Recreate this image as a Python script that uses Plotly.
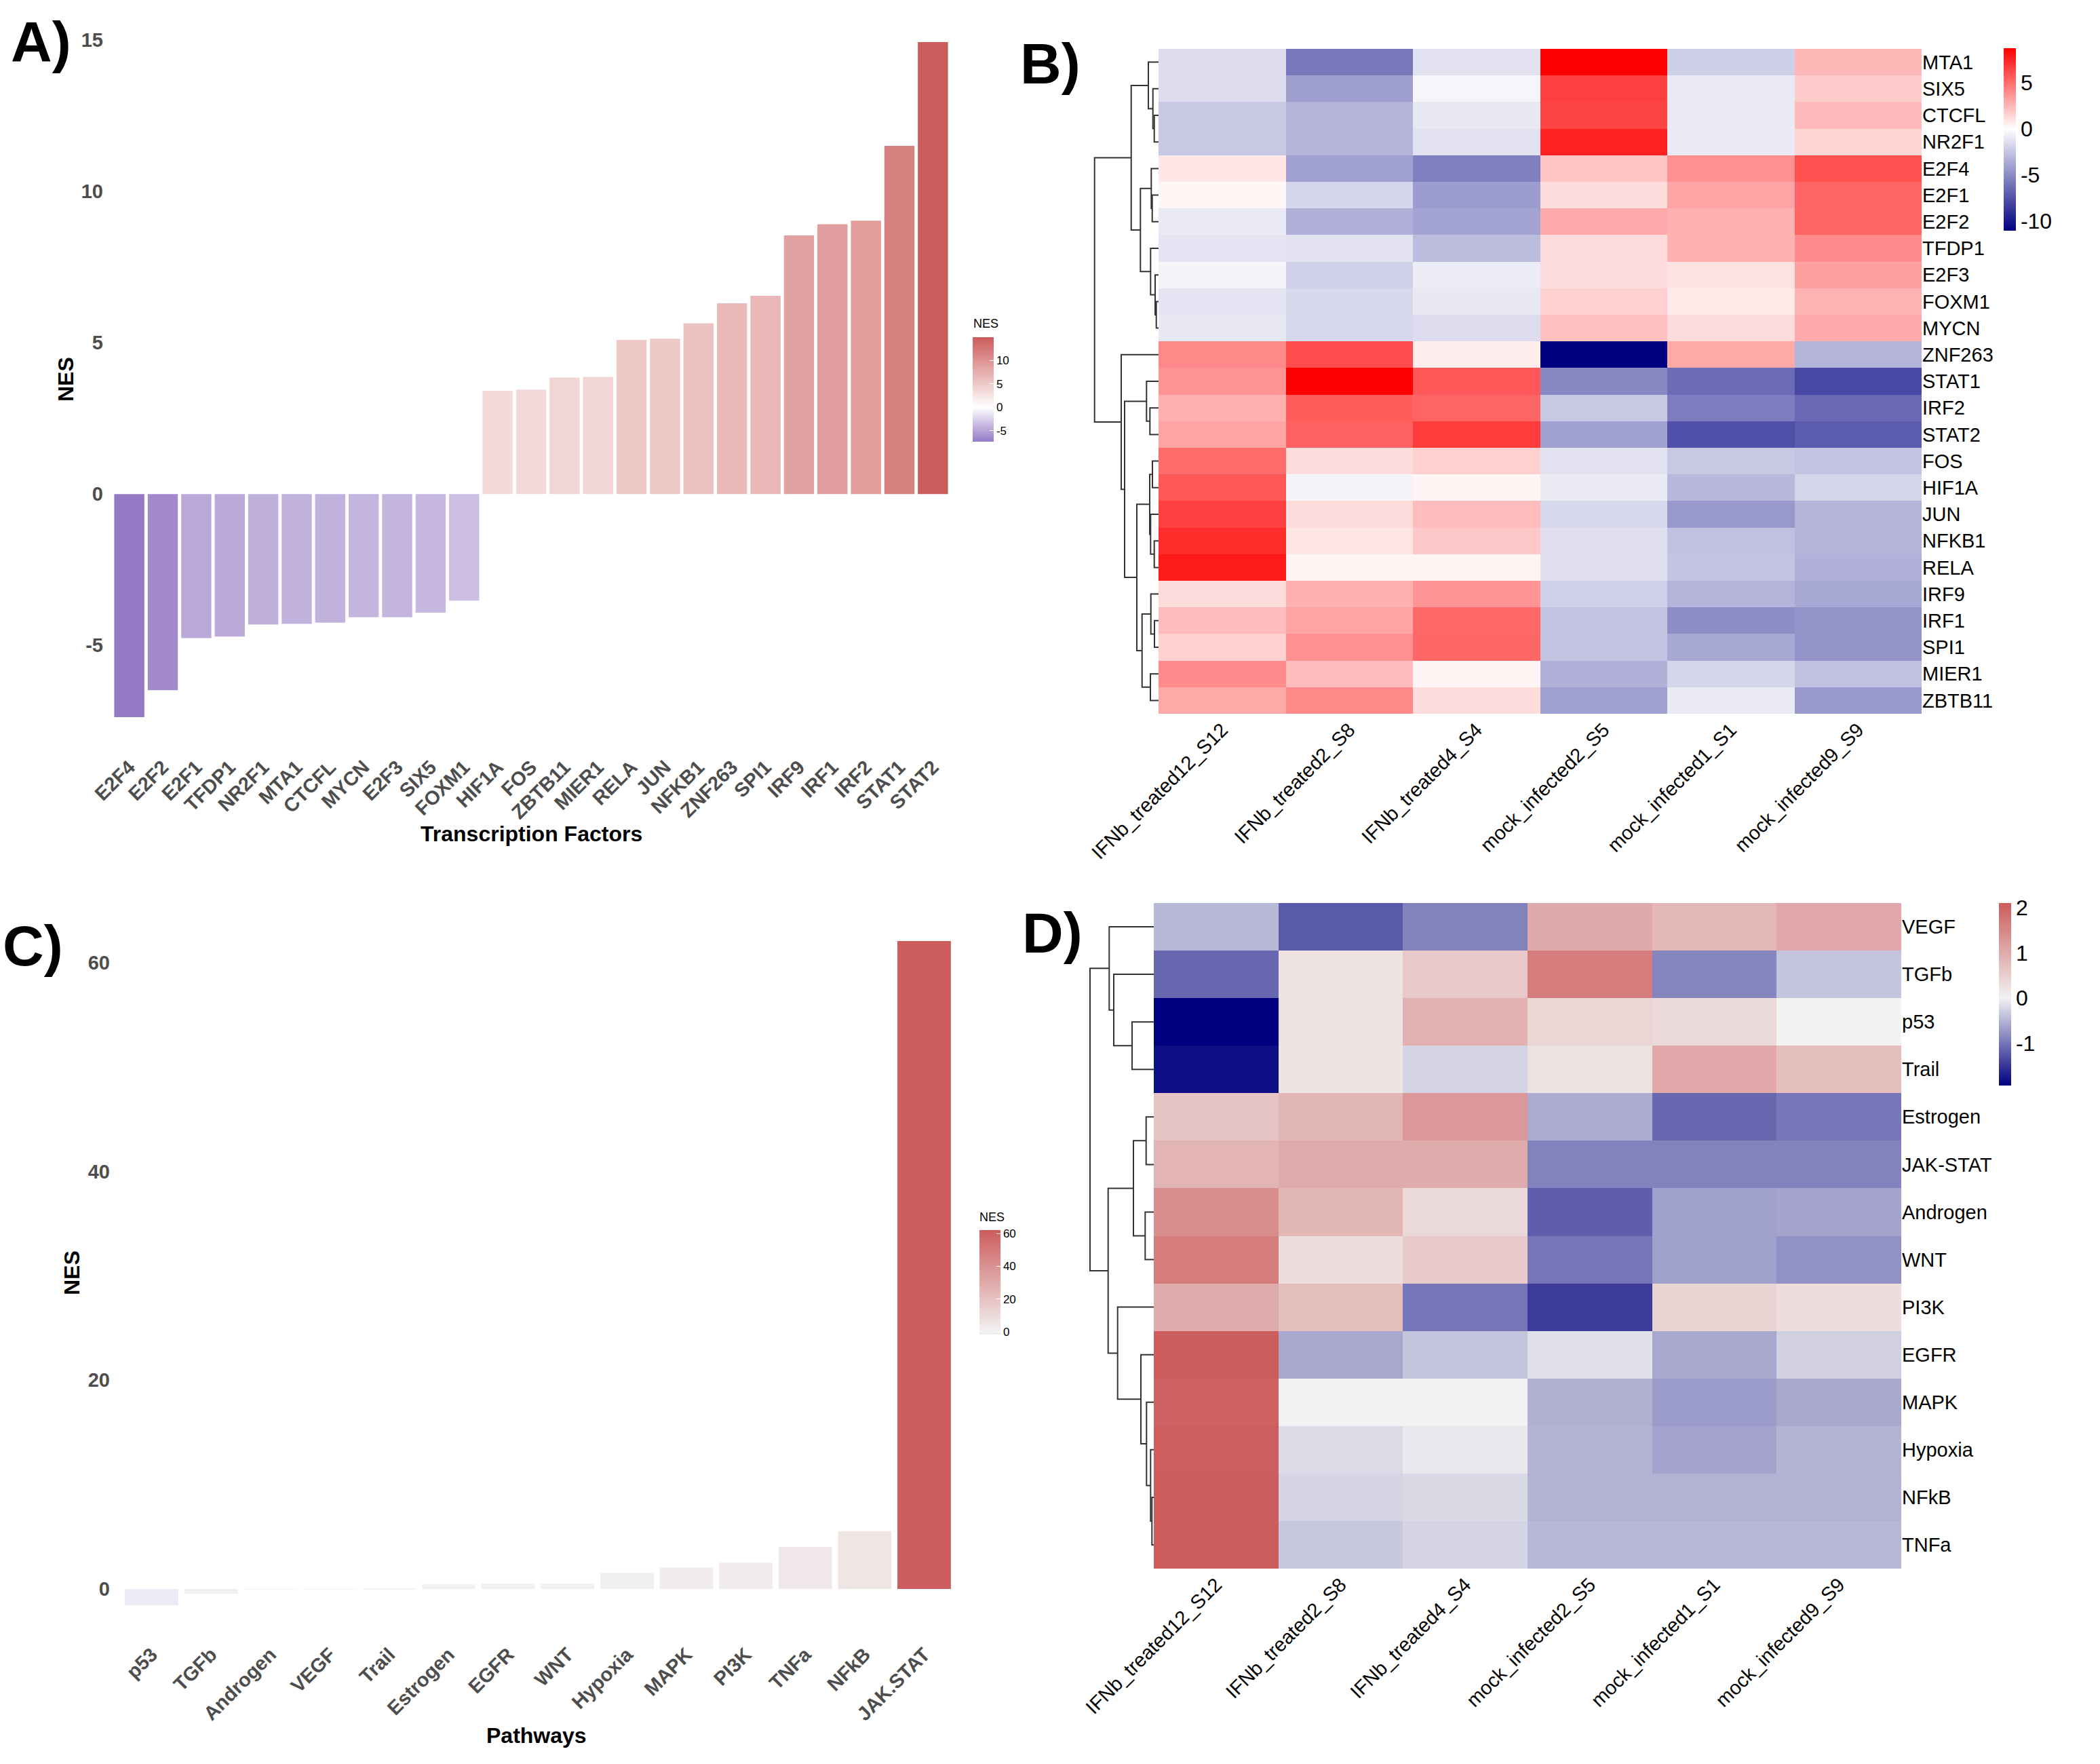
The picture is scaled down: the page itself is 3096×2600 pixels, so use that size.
import plotly.graph_objects as go

W, H = 3096, 2600


def fx(p):
    return p / W


def fy(p):
    return 1 - p / H


# ---------------- Panel A: transcription factors ----------------
tf_names = ["E2F4", "E2F2", "E2F1", "TFDP1", "NR2F1", "MTA1", "CTCFL", "MYCN", "E2F3", "SIX5",
            "FOXM1", "HIF1A", "FOS", "ZBTB11", "MIER1", "RELA", "JUN", "NFKB1", "ZNF263", "SPI1",
            "IRF9", "IRF1", "IRF2", "STAT1", "STAT2"]
tf_nes = [-7.37, -6.48, -4.76, -4.71, -4.31, -4.29, -4.25, -4.07, -4.07, -3.92,
          -3.52, 3.41, 3.45, 3.85, 3.87, 5.09, 5.13, 5.64, 6.30, 6.55,
          8.54, 8.91, 9.03, 11.50, 14.93]

# ---------------- Panel C: pathways ----------------
pw_names = ["p53", "TGFb", "Androgen", "VEGF", "Trail", "Estrogen", "EGFR", "WNT", "Hypoxia",
            "MAPK", "PI3K", "TNFa", "NFkB", "JAK.STAT"]
pw_nes = [-1.56, -0.45, -0.06, -0.04, 0.06, 0.45, 0.52, 0.52, 1.54, 2.05, 2.53, 4.04, 5.55, 62.07]

# ---------------- Heatmaps ----------------
samples = ["IFNb_treated12_S12", "IFNb_treated2_S8", "IFNb_treated4_S4",
           "mock_infected2_S5", "mock_infected1_S1", "mock_infected9_S9"]

tf_rows = ["MTA1", "SIX5", "CTCFL", "NR2F1", "E2F4", "E2F1", "E2F2", "TFDP1", "E2F3", "FOXM1",
           "MYCN", "ZNF263", "STAT1", "IRF2", "STAT2", "FOS", "HIF1A", "JUN", "NFKB1", "RELA",
           "IRF9", "IRF1", "SPI1", "MIER1", "ZBTB11"]
tf_matrix = [
    [-1.51, -5.84, -1.30, 8.75, -2.12, 2.44],
    [-1.51, -4.20, -0.43, 6.55, -0.91, 1.75],
    [-2.38, -3.24, -1.00, 6.42, -0.91, 2.33],
    [-2.38, -3.24, -1.30, 7.65, -0.91, 1.48],
    [0.86, -4.11, -5.49, 2.02, 3.81, 6.00],
    [0.31, -1.86, -4.28, 1.20, 3.12, 5.32],
    [-0.91, -3.42, -3.94, 2.92, 2.71, 5.32],
    [-1.17, -1.30, -2.90, 1.20, 2.71, 3.95],
    [-0.48, -2.03, -0.82, 1.20, 1.00, 3.26],
    [-1.17, -1.69, -1.00, 1.61, 0.72, 2.57],
    [-1.00, -1.69, -1.51, 2.16, 1.20, 2.92],
    [4.08, 6.14, 0.65, -11.03, 2.98, -3.24],
    [3.67, 8.75, 5.73, -5.15, -6.36, -7.92],
    [2.71, 5.59, 5.32, -2.38, -5.67, -6.53],
    [3.12, 5.46, 6.69, -4.11, -7.57, -7.05],
    [5.04, 1.20, 1.61, -1.30, -2.38, -2.55],
    [5.80, -0.48, 0.38, -0.91, -3.07, -1.86],
    [6.55, 1.20, 2.30, -1.69, -4.46, -3.24],
    [7.24, 0.86, 1.89, -1.40, -2.72, -3.24],
    [7.86, 0.38, 0.38, -1.40, -2.55, -3.42],
    [1.20, 2.71, 3.67, -2.03, -3.24, -3.76],
    [2.30, 3.12, 5.18, -2.55, -4.97, -4.63],
    [1.61, 3.81, 5.25, -2.55, -3.76, -4.63],
    [3.95, 2.30, 0.38, -3.42, -1.86, -2.72],
    [2.98, 4.08, 1.20, -4.11, -0.91, -4.46],
]

pw_rows = ["VEGF", "TGFb", "p53", "Trail", "Estrogen", "JAK-STAT", "Androgen", "WNT", "PI3K",
           "EGFR", "MAPK", "Hypoxia", "NFkB", "TNFa"]
pw_matrix = [
    [-0.46, -1.21, -0.89, 1.01, 0.81, 1.04],
    [-1.10, 0.22, 0.59, 1.65, -0.86, -0.37],
    [-1.93, 0.21, 0.90, 0.39, 0.37, 0.00],
    [-1.82, 0.19, -0.24, 0.24, 1.04, 0.73],
    [0.64, 0.84, 1.26, -0.56, -1.10, -0.99],
    [0.87, 1.00, 1.00, -0.89, -0.89, -0.89],
    [1.40, 0.84, 0.37, -1.18, -0.65, -0.62],
    [1.65, 0.30, 0.56, -1.00, -0.65, -0.77],
    [1.00, 0.73, -1.00, -1.45, 0.42, 0.30],
    [2.10, -0.59, -0.37, -0.14, -0.59, -0.27],
    [2.02, 0.00, 0.00, -0.53, -0.69, -0.58],
    [2.07, -0.18, -0.08, -0.50, -0.63, -0.50],
    [2.10, -0.24, -0.19, -0.51, -0.51, -0.51],
    [2.10, -0.34, -0.24, -0.47, -0.47, -0.47],
]

# Row dendrograms: [merge height, left, right]
tf_tree = [94.3,
           [40.3,
            [15.0, "MTA1", [8.3, "SIX5", [6.3, "CTCFL", "NR2F1"]]],
            [26.7,
             [10.7, "E2F4", [9.3, "E2F1", "E2F2"]],
             [11.7, "TFDP1", [5.0, "E2F3", [3.3, "FOXM1", "MYCN"]]]]],
           [55.0, "ZNF263",
            [50.0,
             [17.7, "STAT1", [12.7, "IRF2", "STAT2"]],
             [32.0,
              [13.0, [9.0, "FOS", "HIF1A"], [11.7, "JUN", [6.3, "NFKB1", "RELA"]]],
              [24.3, [11.3, "IRF9", [6.0, "IRF1", "SPI1"]], [12.0, "MIER1", "ZBTB11"]]]]]]

pw_tree = [94.0,
           [65.7, "VEGF", [59.0, "TGFb", [32.0, "p53", "Trail"]]],
           [67.3,
            [30.0, [11.3, "Estrogen", "JAK-STAT"], [12.7, "Androgen", "WNT"]],
            [53.3, "PI3K",
             [19.0, "EGFR", [10.7, "MAPK", [4.7, "Hypoxia", [2.7, "NFkB", "TNFa"]]]]]]]


def dendro_lines(tree, order):
    xs, ys = [], []

    def rec(n):
        if isinstance(n, str):
            return order.index(n), 0.0
        h, a, b = n
        ya, ha = rec(a)
        yb, hb = rec(b)
        xs.extend([ha, h, h, hb, None])
        ys.extend([ya, ya, yb, yb, None])
        return (ya + yb) / 2, h

    rec(tree)
    return xs, ys


def labels(vals):
    return [str(v) for v in vals]


FONT = "Liberation Sans, Arial, sans-serif"
GRAY = "#4D4D4D"

fig = go.Figure()

# ---- Panel A bars ----
a_min, a_max = min(tf_nes), max(tf_nes)
csA = [[0, "#9479C4"], [(0 - a_min) / (a_max - a_min), "#FFFFFF"], [1, "#CD5C5C"]]
cbA_ticks = [-5, 0, 5, 10]
fig.add_trace(go.Bar(
    x=tf_names, y=tf_nes, xaxis="x", yaxis="y",
    marker=dict(color=tf_nes, colorscale=csA, cmin=a_min, cmax=a_max, line=dict(width=0),
                showscale=True,
                colorbar=dict(x=fx(1434), xanchor="left", xpad=0, y=fy(497), yanchor="top", ypad=0,
                              len=154, lenmode="pixels", thickness=31, outlinewidth=0,
                              tickvals=cbA_ticks, ticktext=labels(cbA_ticks),
                              ticks="inside", ticklen=6, tickcolor="white",
                              tickfont=dict(family=FONT, size=17, color="#000000"))),
))

# ---- Panel C bars ----
c_min, c_max = min(pw_nes), max(pw_nes)
csC = [[0, "#ECEAF4"], [(0 - c_min) / (c_max - c_min), "#F2F2F2"], [1, "#CD5C5C"]]
cbC_ticks = [0, 20, 40, 60]
fig.add_trace(go.Bar(
    x=pw_names, y=pw_nes, xaxis="x4", yaxis="y4",
    marker=dict(color=pw_nes, colorscale=csC, cmin=c_min, cmax=c_max, line=dict(width=0),
                showscale=True,
                colorbar=dict(x=fx(1444), xanchor="left", xpad=0, y=fy(1813), yanchor="top", ypad=0,
                              len=154, lenmode="pixels", thickness=31, outlinewidth=0,
                              tickvals=cbC_ticks, ticktext=labels(cbC_ticks),
                              ticks="inside", ticklen=6, tickcolor="white",
                              tickfont=dict(family=FONT, size=17, color="#000000"))),
))

# ---- Panel B heatmap ----
b_min, b_max = -11.03, 8.75
csB = [[0, "#000080"], [(0 - b_min) / (b_max - b_min), "#FFFFFF"], [1, "#FF0000"]]
cbB_ticks = [5, 0, -5, -10]
fig.add_trace(go.Heatmap(
    z=tf_matrix, x=list(range(len(samples))), y=list(range(len(tf_rows))),
    xaxis="x2", yaxis="y2", colorscale=csB, zmin=b_min, zmax=b_max,
    colorbar=dict(x=fx(2954), xanchor="left", xpad=0, y=fy(71), yanchor="top", ypad=0,
                  len=269, lenmode="pixels", thickness=18, outlinewidth=0,
                  tickvals=cbB_ticks, ticktext=labels(cbB_ticks), ticks="",
                  tickfont=dict(family=FONT, size=32, color="#000000")),
))
bx, by = dendro_lines(tf_tree, tf_rows)
fig.add_trace(go.Scatter(x=bx, y=by, xaxis="x3", yaxis="y3", mode="lines",
                         line=dict(color="#333333", width=2), cliponaxis=False, hoverinfo="skip"))

# ---- Panel D heatmap ----
d_min, d_max = -1.93, 2.10
csD = [[0, "#000080"], [(0 - d_min) / (d_max - d_min), "#F2F2F2"], [1, "#CD5C5C"]]
cbD_ticks = [2, 1, 0, -1]
fig.add_trace(go.Heatmap(
    z=pw_matrix, x=list(range(len(samples))), y=list(range(len(pw_rows))),
    xaxis="x5", yaxis="y5", colorscale=csD, zmin=d_min, zmax=d_max,
    colorbar=dict(x=fx(2947), xanchor="left", xpad=0, y=fy(1331), yanchor="top", ypad=0,
                  len=269, lenmode="pixels", thickness=18, outlinewidth=0,
                  tickvals=cbD_ticks, ticktext=labels(cbD_ticks), ticks="",
                  tickfont=dict(family=FONT, size=32, color="#000000")),
))
dx, dy = dendro_lines(pw_tree, pw_rows)
fig.add_trace(go.Scatter(x=dx, y=dy, xaxis="x6", yaxis="y6", mode="lines",
                         line=dict(color="#333333", width=2), cliponaxis=False, hoverinfo="skip"))

bar_tick = dict(family=FONT, size=29, color=GRAY, weight="bold")
hm_tick = dict(family=FONT, size=29, color="#000000")
hidden = dict(visible=False, showgrid=False, zeroline=False, automargin=False)
common = dict(showgrid=False, zeroline=False, showline=False, ticks="", automargin=False)

a_yticks = [-5, 0, 5, 10, 15]
c_yticks = [0, 20, 40, 60]

fig.update_layout(
    width=W, height=H, margin=dict(l=0, r=0, t=0, b=0, autoexpand=False),
    paper_bgcolor="white", plot_bgcolor="white", showlegend=False, bargap=0.1,
    # Panel A
    xaxis=dict(domain=[fx(161), fx(1405)], range=[-0.6, len(tf_names) - 0.4], anchor="y",
               tickangle=-45, tickfont=bar_tick, **common),
    yaxis=dict(domain=[fy(1107), fy(12)], range=[-8.49, 16.05], anchor="x",
               tickvals=a_yticks, ticktext=labels(a_yticks), tickfont=bar_tick,
               ticklabelstandoff=8, **common),
    # Panel B heatmap
    xaxis2=dict(domain=[fx(1708), fx(2833)], range=[-0.5, 5.5], anchor="y2",
                tickvals=list(range(len(samples))), ticktext=samples, tickangle=-45,
                tickfont=hm_tick, **common),
    yaxis2=dict(domain=[fy(1052), fy(72)], range=[len(tf_rows) - 0.5, -0.5], anchor="x2",
                side="right", tickvals=list(range(len(tf_rows))), ticktext=tf_rows,
                tickfont=hm_tick, **common),
    xaxis3=dict(domain=[fx(1600), fx(1708)], range=[108, 0], anchor="y3", **hidden),
    yaxis3=dict(domain=[fy(1052), fy(72)], range=[len(tf_rows) - 0.5, -0.5], anchor="x3", **hidden),
    # Panel C
    xaxis4=dict(domain=[fx(171), fx(1415)], range=[-0.6, len(pw_names) - 0.4], anchor="y4",
                tickangle=-45, tickfont=bar_tick, **common),
    yaxis4=dict(domain=[fy(2415), fy(1338)], range=[-4.74, 65.25], anchor="x4",
                tickvals=c_yticks, ticktext=labels(c_yticks), tickfont=bar_tick,
                ticklabelstandoff=8, **common),
    # Panel D heatmap
    xaxis5=dict(domain=[fx(1701), fx(2803)], range=[-0.5, 5.5], anchor="y5",
                tickvals=list(range(len(samples))), ticktext=samples, tickangle=-45,
                tickfont=hm_tick, **common),
    yaxis5=dict(domain=[fy(2312), fy(1331)], range=[len(pw_rows) - 0.5, -0.5], anchor="x5",
                side="right", tickvals=list(range(len(pw_rows))), ticktext=pw_rows,
                tickfont=hm_tick, **common),
    xaxis6=dict(domain=[fx(1590), fx(1701)], range=[111, 0], anchor="y6", **hidden),
    yaxis6=dict(domain=[fy(2312), fy(1331)], range=[len(pw_rows) - 0.5, -0.5], anchor="x6", **hidden),
)

title_font = dict(family=FONT, size=32, color="#000000", weight="bold")
panel_font = dict(family=FONT, size=84, color="#000000", weight="bold")
cb_font = dict(family=FONT, size=18, color="#000000")


def ann(text, x, y, font, angle=0, xanchor="center"):
    fig.add_annotation(text=text, x=fx(x), y=fy(y), xref="paper", yref="paper",
                       showarrow=False, font=font, textangle=angle,
                       xanchor=xanchor, yanchor="middle")


ann("NES", 97, 559, title_font, angle=-90)
ann("Transcription Factors", 783, 1229, title_font)
ann("NES", 106, 1876, title_font, angle=-90)
ann("Pathways", 791, 2558, title_font)
ann("NES", 1433, 477, cb_font, xanchor="left")
ann("NES", 1442, 1794, cb_font, xanchor="left")
ann("A)", 60, 62, panel_font)
ann("B)", 1548, 94, panel_font)
ann("C)", 48, 1394, panel_font)
ann("D)", 1551, 1375, panel_font)

fig.write_html("out.html", config={"displayModeBar": False},
               post_script="document.body.style.margin='0px';")
